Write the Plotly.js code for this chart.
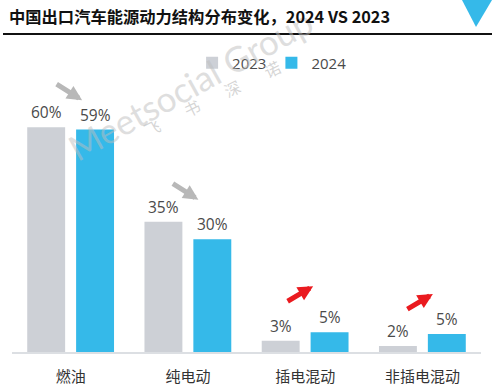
<!DOCTYPE html>
<html>
<head>
<meta charset="utf-8">
<script src="https://cdn.plot.ly/plotly-3.0.1.min.js"></script>
<style>
html,body{margin:0;padding:0;background:#fff;}
#chart{width:492px;height:390px;}
</style>
</head>
<body>
<div id="chart"></div>
<script>
const categories = ['燃油', '纯电动', '插电混动', '非插电混动'];
const values2023 = [60, 34.8, 3, 1.6];
const values2024 = [59.4, 30.1, 5.3, 4.8];
const labels2023 = ['60%', '35%', '3%', '2%'];
const labels2024 = ['59%', '30%', '5%', '5%'];
const seriesNames = ['2023', '2024'];
const trendUp = [false, false, true, true];

const GRAY = '#cdd0d6';
const BLUE = '#35b9e9';
const FONT = 'Open Sans, Noto Sans CJK SC, sans-serif';

const traces = [
  {type: 'bar', name: seriesNames[0], x: categories, y: values2023, marker: {color: GRAY}, hoverinfo: 'skip'},
  {type: 'bar', name: seriesNames[1], x: categories, y: values2024, marker: {color: BLUE}, hoverinfo: 'skip'}
];

const plotH = 390 - 40 - 38, plotW = 492 - 12 - 11;
const py = (pix) => (390 - 38 - pix) / plotH;
const px = (pix) => (pix - 12) / plotW;

const annotations = [];

// watermark (drawn first, underneath)
annotations.push({xref: 'paper', yref: 'paper', x: px(190), y: py(84), xanchor: 'center', yanchor: 'middle',
  text: 'Meetsocial Group', showarrow: false,
  textangle: -29, font: {family: 'Lato, sans-serif', size: 35, color: 'rgba(190,190,190,0.5)'}});
annotations.push({xref: 'paper', yref: 'paper', x: px(212), y: py(98), xanchor: 'center', yanchor: 'middle',
  text: '飞&nbsp;&nbsp;&nbsp;&nbsp;&nbsp;&nbsp;&nbsp;&nbsp;书&nbsp;&nbsp;&nbsp;&nbsp;&nbsp;&nbsp;&nbsp;&nbsp;深&nbsp;&nbsp;&nbsp;&nbsp;&nbsp;&nbsp;&nbsp;&nbsp;诺', showarrow: false,
  textangle: -26, font: {family: 'Noto Sans CJK SC', size: 16, color: 'rgba(185,185,185,0.6)'}});

const arrowShift = [[11.5, 27], [10.5, 22], [8, 46], [10.5, 40]];
categories.forEach((c, i) => {
  annotations.push({x: c, y: values2023[i], xref: 'x', yref: 'y', text: labels2023[i], showarrow: false,
    xshift: -24.5, yshift: 15, font: {family: FONT, size: 15.5, color: '#4a4a4a'}});
  annotations.push({x: c, y: values2024[i], xref: 'x', yref: 'y', text: labels2024[i], showarrow: false,
    xshift: 24.5, yshift: 15, font: {family: FONT, size: 15.5, color: '#4a4a4a'}});
  const up = trendUp[i];
  const top = Math.max(values2023[i], values2024[i]);
  annotations.push({x: c, y: top, xref: 'x', yref: 'y', text: '', showarrow: true,
    xshift: arrowShift[i][0], yshift: arrowShift[i][1],
    ax: -27, ay: up ? 16 : -17, axref: 'pixel', ayref: 'pixel',
    arrowhead: 2, arrowsize: 0.6, arrowwidth: 5,
    arrowcolor: up ? '#ea1a1f' : '#b8b8b8'});
});

// title
annotations.push({xref: 'paper', yref: 'paper', x: px(7), y: py(16), xanchor: 'left', yanchor: 'middle',
  text: '<b>中国出口汽车能源动力结构分布变化，2024 VS 2023</b>', showarrow: false,
  font: {family: 'Noto Sans CJK SC, sans-serif', size: 16.3, color: '#111'}});

const layout = {
  width: 492, height: 390,
  margin: {l: 12, r: 11, t: 40, b: 38},
  paper_bgcolor: '#fff', plot_bgcolor: '#fff',
  barmode: 'group', bargap: 0.166, bargroupgap: 0.2245,
  showlegend: true,
  legend: {orientation: 'h', x: 0.384, xanchor: 'left', y: 0.926, yanchor: 'middle',
    font: {family: FONT, size: 15, color: '#4a4a4a'}, itemwidth: 30, traceorder: 'normal', bgcolor: 'rgba(0,0,0,0)'},
  xaxis: {type: 'category', showline: true, linecolor: '#dcdfe3', linewidth: 1.5, ticks: '', showgrid: false,
    tickfont: {family: FONT, size: 15, color: '#333'}, ticklabelstandoff: 10, fixedrange: true},
  yaxis: {range: [0, 83.3], visible: false, showgrid: false, zeroline: false, fixedrange: true},
  annotations: annotations,
  shapes: [
    {type: 'line', xref: 'paper', yref: 'paper', x0: px(3), x1: px(492), y0: py(34), y1: py(34),
      line: {color: '#111', width: 2}},
    {type: 'path', xref: 'paper', yref: 'paper',
      path: `M ${px(462)},${py(0)} L ${px(492)},${py(0)} L ${px(476)},${py(27)} Z`,
      fillcolor: BLUE, line: {width: 0}}
  ]
};

Plotly.newPlot('chart', traces, layout, {displayModeBar: false, staticPlot: true});
</script>
</body>
</html>
